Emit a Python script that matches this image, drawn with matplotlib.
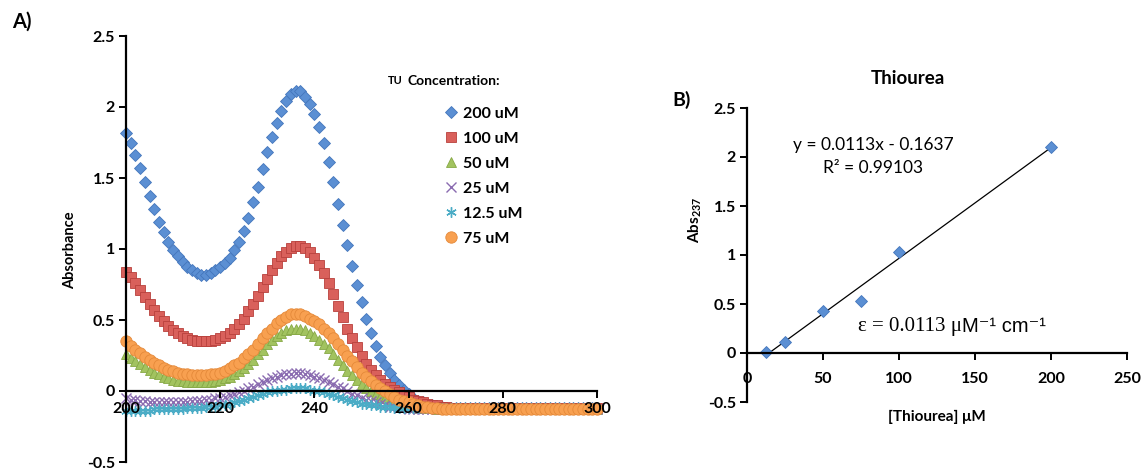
'''UV-Vis spectra of thiourea (TU) and the Abs237 standard curve.'''

import numpy as np
import matplotlib
matplotlib.use('Agg')
import matplotlib.pyplot as plt

plt.rcParams['font.family'] = ['Lato', 'DejaVu Sans']

######################################
# DATA
wavelength = np.arange(200, 301)  # nm, 1 nm steps

abs_200uM = [1.82, 1.75, 1.66, 1.57, 1.47, 1.37, 1.28, 1.19, 1.12, 1.05,
             0.99, 0.95, 0.91, 0.87, 0.85, 0.83, 0.82, 0.82, 0.83, 0.85,
             0.87, 0.90, 0.94, 0.99, 1.05, 1.13, 1.22, 1.33, 1.44, 1.56,
             1.68, 1.79, 1.89, 1.97, 2.04, 2.09, 2.11, 2.11, 2.07, 2.02,
             1.95, 1.86, 1.75, 1.61, 1.47, 1.32, 1.17, 1.03, 0.88, 0.75,
             0.63, 0.51, 0.41, 0.32, 0.24, 0.18, 0.13, 0.08, 0.04, 0.01,
             -0.02, -0.05, -0.07, -0.08, -0.09, -0.10, -0.11, -0.11, -0.12, -0.12,
             -0.12, -0.12, -0.12, -0.12, -0.12, -0.12, -0.12, -0.12, -0.12, -0.12,
             -0.12, -0.12, -0.12, -0.12, -0.12, -0.12, -0.12, -0.12, -0.12, -0.12,
             -0.12, -0.12, -0.12, -0.12, -0.12, -0.12, -0.12, -0.12, -0.12, -0.12,
             -0.12]

abs_100uM = [0.84, 0.80, 0.76, 0.71, 0.66, 0.61, 0.57, 0.53, 0.49, 0.46,
             0.43, 0.41, 0.39, 0.37, 0.36, 0.35, 0.35, 0.35, 0.35, 0.36,
             0.37, 0.39, 0.41, 0.44, 0.47, 0.51, 0.56, 0.61, 0.67, 0.73,
             0.79, 0.85, 0.90, 0.95, 0.98, 1.01, 1.02, 1.02, 1.01, 0.98,
             0.94, 0.89, 0.83, 0.76, 0.68, 0.60, 0.52, 0.44, 0.37, 0.31,
             0.25, 0.19, 0.15, 0.11, 0.08, 0.05, 0.03, 0.01, -0.01, -0.03,
             -0.04, -0.06, -0.07, -0.08, -0.09, -0.10, -0.10, -0.11, -0.11, -0.12,
             -0.12, -0.12, -0.12, -0.12, -0.12, -0.12, -0.12, -0.12, -0.12, -0.12,
             -0.12, -0.12, -0.12, -0.12, -0.12, -0.12, -0.12, -0.12, -0.12, -0.12,
             -0.12, -0.12, -0.12, -0.12, -0.12, -0.12, -0.12, -0.12, -0.12, -0.12,
             -0.12]

abs_50uM = [0.26, 0.23, 0.21, 0.19, 0.17, 0.15, 0.13, 0.12, 0.10, 0.09,
            0.08, 0.07, 0.07, 0.06, 0.06, 0.06, 0.06, 0.06, 0.06, 0.07,
            0.08, 0.09, 0.10, 0.12, 0.14, 0.16, 0.19, 0.22, 0.26, 0.29,
            0.33, 0.36, 0.39, 0.41, 0.43, 0.44, 0.44, 0.44, 0.43, 0.41,
            0.39, 0.36, 0.33, 0.30, 0.26, 0.22, 0.18, 0.14, 0.11, 0.08,
            0.05, 0.02, 0.00, -0.02, -0.04, -0.05, -0.07, -0.08, -0.09, -0.10,
            -0.11, -0.11, -0.12, -0.12, -0.12, -0.12, -0.13, -0.13, -0.13, -0.13,
            -0.13, -0.13, -0.13, -0.13, -0.13, -0.13, -0.13, -0.13, -0.13, -0.13,
            -0.13, -0.13, -0.13, -0.13, -0.13, -0.13, -0.13, -0.13, -0.13, -0.13,
            -0.13, -0.13, -0.13, -0.13, -0.13, -0.13, -0.13, -0.13, -0.13, -0.13,
            -0.13]

abs_25uM = [-0.05, -0.06, -0.06, -0.07, -0.07, -0.08, -0.08, -0.08, -0.08, -0.08,
            -0.08, -0.08, -0.08, -0.08, -0.07, -0.07, -0.07, -0.06, -0.06, -0.05,
            -0.05, -0.04, -0.03, -0.02, -0.01, 0.00, 0.02, 0.03, 0.05, 0.06,
            0.08, 0.09, 0.10, 0.11, 0.12, 0.12, 0.13, 0.13, 0.12, 0.11,
            0.10, 0.09, 0.08, 0.06, 0.05, 0.03, 0.02, 0.00, -0.02, -0.03,
            -0.05, -0.06, -0.07, -0.08, -0.09, -0.10, -0.11, -0.11, -0.12, -0.12,
            -0.13, -0.13, -0.13, -0.13, -0.13, -0.13, -0.13, -0.13, -0.13, -0.13,
            -0.13, -0.13, -0.13, -0.13, -0.13, -0.13, -0.13, -0.13, -0.13, -0.13,
            -0.13, -0.13, -0.13, -0.13, -0.13, -0.13, -0.13, -0.13, -0.13, -0.13,
            -0.13, -0.13, -0.13, -0.13, -0.13, -0.13, -0.13, -0.13, -0.13, -0.13,
            -0.13]

abs_12uM = [-0.14, -0.14, -0.14, -0.14, -0.14, -0.14, -0.13, -0.13, -0.13, -0.13,
            -0.13, -0.13, -0.13, -0.12, -0.12, -0.12, -0.12, -0.11, -0.11, -0.11,
            -0.10, -0.10, -0.09, -0.08, -0.07, -0.06, -0.05, -0.04, -0.03, -0.02,
            -0.01, 0.00, 0.00, 0.01, 0.01, 0.02, 0.02, 0.02, 0.02, 0.01,
            0.00, 0.00, -0.01, -0.02, -0.03, -0.04, -0.05, -0.06, -0.07, -0.08,
            -0.09, -0.09, -0.10, -0.10, -0.11, -0.11, -0.11, -0.12, -0.12, -0.12,
            -0.12, -0.12, -0.12, -0.12, -0.12, -0.12, -0.12, -0.12, -0.12, -0.12,
            -0.12, -0.12, -0.12, -0.12, -0.12, -0.12, -0.12, -0.12, -0.12, -0.12,
            -0.12, -0.12, -0.12, -0.12, -0.12, -0.12, -0.12, -0.12, -0.12, -0.12,
            -0.12, -0.12, -0.12, -0.12, -0.12, -0.12, -0.12, -0.12, -0.12, -0.12,
            -0.12]

abs_75uM = [0.35, 0.32, 0.29, 0.27, 0.24, 0.22, 0.20, 0.18, 0.16, 0.15,
            0.14, 0.13, 0.12, 0.12, 0.11, 0.11, 0.11, 0.11, 0.12, 0.12,
            0.13, 0.14, 0.16, 0.18, 0.20, 0.23, 0.26, 0.29, 0.33, 0.37,
            0.41, 0.44, 0.48, 0.50, 0.52, 0.54, 0.54, 0.54, 0.53, 0.51,
            0.49, 0.47, 0.44, 0.41, 0.37, 0.33, 0.29, 0.25, 0.21, 0.17,
            0.13, 0.10, 0.07, 0.04, 0.02, 0.00, -0.02, -0.04, -0.06, -0.07,
            -0.08, -0.09, -0.10, -0.11, -0.11, -0.12, -0.12, -0.13, -0.13, -0.13,
            -0.13, -0.13, -0.13, -0.13, -0.13, -0.13, -0.13, -0.13, -0.13, -0.13,
            -0.13, -0.13, -0.13, -0.13, -0.13, -0.13, -0.13, -0.13, -0.13, -0.13,
            -0.13, -0.13, -0.13, -0.13, -0.13, -0.13, -0.13, -0.13, -0.13, -0.13,
            -0.13]

# drawn in this order (Excel series order), 75 uM last so it sits on top
series_values = [abs_200uM, abs_100uM, abs_50uM, abs_25uM, abs_12uM, abs_75uM]
series_labels = ['200 uM', '100 uM', '50 uM', '25 uM', '12.5 uM', '75 uM']

# panel B: Abs at 237 nm vs concentration
tu_conc = [12.5, 25, 50, 75, 100, 200]
abs_237 = [0.01, 0.11, 0.43, 0.53, 1.03, 2.10]
fit_slope = 0.0113
fit_intercept = -0.1637
######################################

# marker styles per series (same order as series_values)
styles = [
    dict(marker='D', ms=6.4, mfc='#5B8FD3', mec='#4476BC', mew=0.6),
    dict(marker='s', ms=7.6, mfc='#D9605B', mec='#B8403C', mew=0.6),
    dict(marker='^', ms=7.4, mfc='#A2C35F', mec='#86A845', mew=0.6),
    dict(marker='x', ms=6.5, mfc='none', mec='#8A6BB0', mew=1.0),
    dict(marker=(6, 2, 0), ms=7.5, mfc='none', mec='#4BACC6', mew=1.0),
    dict(marker='o', ms=8.2, mfc='#F8A050', mec='#E4893A', mew=0.6),
]


def style_axis(ax):
    for side in ['top', 'right']:
        ax.spines[side].set_visible(False)
    ax.spines['bottom'].set_position(('data', 0))
    for side in ['left', 'bottom']:
        ax.spines[side].set_linewidth(1.6)
    ax.set_axisbelow(False)  # tick labels over the markers, like Excel
    ax.tick_params(direction='out', length=5, width=1.4, labelsize=11.5, pad=3)
    for lab in ax.get_xticklabels() + ax.get_yticklabels():
        lab.set_fontweight('bold')


fig = plt.figure(figsize=(11.43, 4.71), dpi=100)

# ---------- panel A : spectra ----------
ax1 = fig.add_axes([126 / 1143, 9 / 471, 471 / 1143, 426 / 471])
handles = []
for vals, lab, st in zip(series_values, series_labels, styles):
    h, = ax1.plot(wavelength, vals, linestyle='none', label=lab, clip_on=False, **st)
    handles.append(h)

ax1.set_xlim(200, 300)
ax1.set_ylim(-0.5, 2.5)
ax1.set_xticks([200, 220, 240, 260, 280, 300])
ax1.set_yticks([-0.5, 0, 0.5, 1, 1.5, 2, 2.5])
ax1.set_yticklabels(['-0.5', '0', '0.5', '1', '1.5', '2', '2.5'])
style_axis(ax1)

fig.text(70 / 1143, 1 - 250 / 471, 'Absorbance', rotation=90, ha='center', va='center',
         fontsize=10.5, fontweight='bold')
fig.text(12 / 1143, 1 - 22 / 471, 'A)', ha='left', va='center', fontsize=14.5, fontweight='bold')

# legend with its own title text
fig.text(388 / 1143, 1 - 81 / 471, 'TU', ha='left', va='center', fontsize=8, fontweight='bold')
fig.text(407 / 1143, 1 - 81 / 471, 'Concentration:', ha='left', va='center', fontsize=10,
         fontweight='bold')
leg = ax1.legend(handles=handles, labels=series_labels, loc='upper left',
                 bbox_to_anchor=(437 / 1143, 1 - 100 / 471), bbox_transform=fig.transFigure,
                 frameon=False, numpoints=1, handlelength=1.0, handletextpad=0.25,
                 labelspacing=0.68, borderaxespad=0, prop={'size': 11.5, 'weight': 'bold'})

# ---------- panel B : standard curve ----------
ax2 = fig.add_axes([747 / 1143, 69 / 471, 380 / 1143, 294 / 471])
fit_x = np.array([min(tu_conc), max(tu_conc)])
ax2.plot(fit_x, fit_slope * fit_x + fit_intercept, color='black', linewidth=0.9)
ax2.plot(tu_conc, abs_237, linestyle='none', marker='D', ms=6.6, mfc='#5B8FD3',
         mec='#4476BC', mew=0.6, clip_on=False)
ax2.set_xlim(0, 250)
ax2.set_ylim(-0.5, 2.5)
ax2.set_xticks([0, 50, 100, 150, 200, 250])
ax2.set_yticks([-0.5, 0, 0.5, 1, 1.5, 2, 2.5])
ax2.set_yticklabels(['-0.5', '0', '0.5', '1', '1.5', '2', '2.5'])
style_axis(ax2)
ax2.tick_params(axis='x', pad=9)

fig.text(908 / 1143, 1 - 79 / 471, 'Thiourea', ha='center', va='center', fontsize=13.5,
         fontweight='bold')
fig.text(682 / 1143, 1 - 100 / 471, 'B)', ha='center', va='center', fontsize=14,
         fontweight='bold')
fig.text(695 / 1143, 1 - 220 / 471, r'Abs$_{\mathregular{237}}$', rotation=90, ha='center',
         va='center', fontsize=11, fontweight='bold')
fig.text(937 / 1143, 1 - 417 / 471, '[Thiourea] \u03bcM', ha='center', va='center',
         fontsize=11, fontweight='bold')

fig.text(873 / 1143, 1 - 145 / 471, 'y = 0.0113x - 0.1637', ha='center', va='center',
         fontsize=12.5)
fig.text(873 / 1143, 1 - 168 / 471, 'R\u00b2 = 0.99103', ha='center', va='center',
         fontsize=12.5)

eps = fig.text(858 / 1143, 1 - 327 / 471, '\u03b5 = 0.0113 \u03bc', ha='left', va='center',
               fontsize=15, family='Liberation Serif')
ax2.annotate('M\u207b\u00b9 cm\u207b\u00b9', xy=(1, 0.5), xycoords=eps, ha='left', va='center',
             fontsize=14.5, family=['Liberation Sans', 'DejaVu Sans'])

fig.savefig('out.png', dpi=100)
